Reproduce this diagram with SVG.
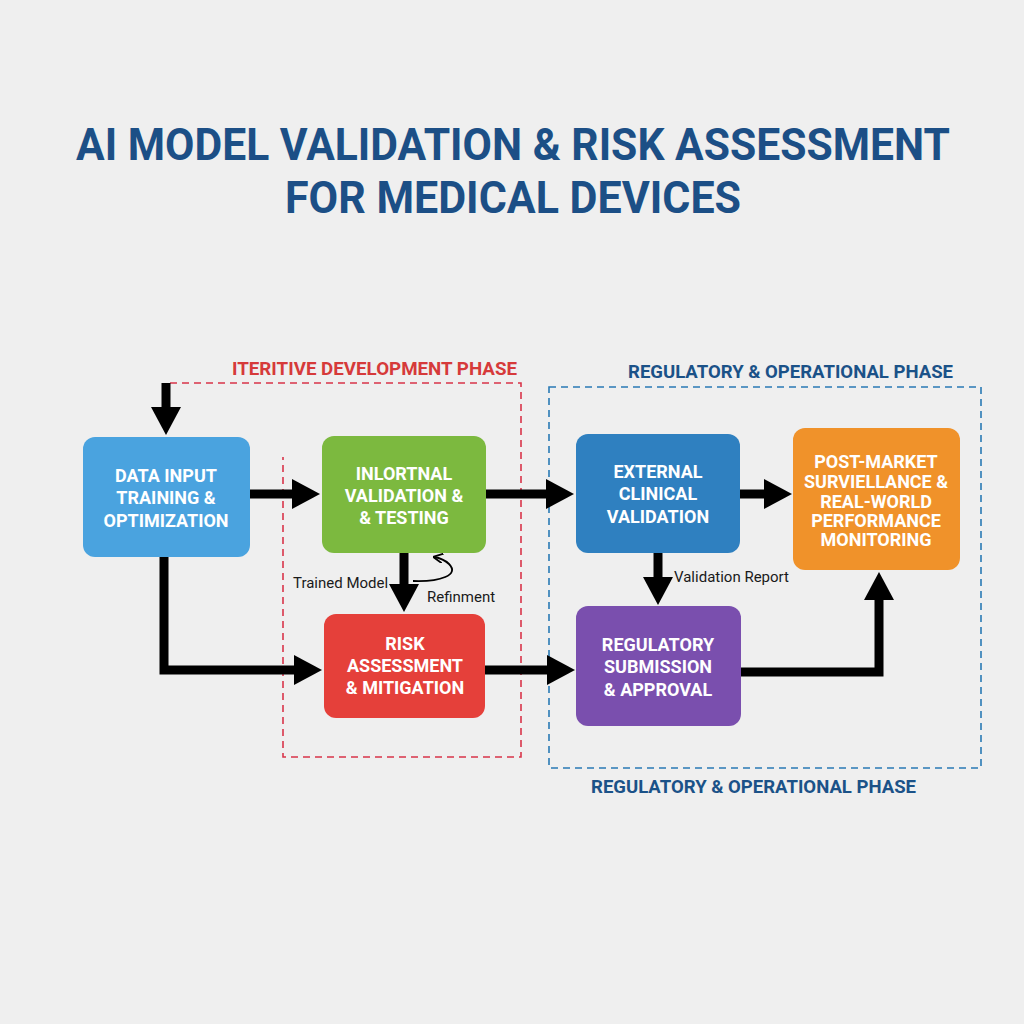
<svg xmlns="http://www.w3.org/2000/svg" width="1024" height="1024" viewBox="0 0 1024 1024">
<style>
.title{font-family:Roboto,"Liberation Sans",sans-serif;font-weight:700;fill:#1c4f86;font-size:44px}
.nt{font-family:Roboto,"Liberation Sans",sans-serif;font-weight:700;fill:#ffffff;font-size:18px;text-anchor:middle}
.ph{font-family:Roboto,"Liberation Sans",sans-serif;font-weight:700;font-size:18px}
.lbl{font-family:Roboto,"Liberation Sans",sans-serif;font-size:15px;fill:#1a1a1a}
.conn{fill:none;stroke:#000;stroke-width:9;marker-end:url(#ah)}
</style>
<defs>
<marker id="ah" markerUnits="userSpaceOnUse" viewBox="0 0 28 30" markerWidth="28" markerHeight="30" refX="2" refY="15" orient="auto">
<path d="M0,0 L28,15 L0,30 z" fill="#000"/>
</marker>
<marker id="sm" markerUnits="userSpaceOnUse" viewBox="0 0 10 10" markerWidth="10" markerHeight="10" refX="9" refY="5" orient="auto">
<path d="M0,0 L10,5 L0,10" fill="none" stroke="#000" stroke-width="1.8"/>
</marker>
</defs>
<rect width="1024" height="1024" fill="#efefef"/>
<g id="title">
<text class="title" x="76" y="160" textLength="874" lengthAdjust="spacingAndGlyphs">AI MODEL VALIDATION &amp; RISK ASSESSMENT</text>
<text class="title" x="285" y="213" textLength="456" lengthAdjust="spacingAndGlyphs">FOR MEDICAL DEVICES</text>
</g>
<g id="phase-dev">
<path d="M170,383 H521 V757 H283 V457" fill="none" stroke="#d9354a" stroke-width="1.6" stroke-dasharray="7,5"/>
<text class="ph" x="232" y="375" fill="#d63a3a" textLength="285" lengthAdjust="spacingAndGlyphs">ITERITIVE DEVELOPMENT PHASE</text>
</g>
<g id="phase-reg">
<rect x="549" y="387" width="432" height="381" fill="none" stroke="#2a7ab5" stroke-width="1.6" stroke-dasharray="7,5"/>
<text class="ph" x="628" y="378" fill="#1b5288" textLength="325" lengthAdjust="spacingAndGlyphs">REGULATORY &amp; OPERATIONAL PHASE</text>
<text class="ph" x="591" y="793" fill="#1b5288" textLength="325" lengthAdjust="spacingAndGlyphs">REGULATORY &amp; OPERATIONAL PHASE</text>
</g>
<g id="connectors">
<path class="conn" d="M166,383 V409"/>
<path class="conn" d="M250,494 H294"/>
<path class="conn" d="M486,494 H548"/>
<path class="conn" d="M740,494 H766"/>
<path class="conn" d="M404,553 V586"/>
<path class="conn" d="M164,557 V670 H296"/>
<path class="conn" d="M485,670 H549"/>
<path class="conn" d="M658,553 V579"/>
<path class="conn" d="M741,672 H879 V598"/>
<path d="M413,581 C440,582 460,575 449,564 C445,560 440,558 434,557" fill="none" stroke="#000" stroke-width="1.8" marker-end="url(#sm)"/>
<text class="lbl" x="293" y="588">Trained Model</text>
<text class="lbl" x="427" y="602">Refinment</text>
<text class="lbl" x="674" y="582">Validation Report</text>
</g>
<g id="node-data">
<rect x="83" y="437" width="167" height="120" rx="12" fill="#4aa3df"/>
<text class="nt" x="166" y="482">DATA INPUT</text>
<text class="nt" x="166" y="504">TRAINING &amp;</text>
<text class="nt" x="166" y="527">OPTIMIZATION</text>
</g>
<g id="node-internal">
<rect x="322" y="436" width="164" height="117" rx="12" fill="#7cb93f"/>
<text class="nt" x="404" y="480">INLORTNAL</text>
<text class="nt" x="404" y="502">VALIDATION &amp;</text>
<text class="nt" x="404" y="524">&amp; TESTING</text>
</g>
<g id="node-external">
<rect x="576" y="434" width="164" height="119" rx="12" fill="#2f80c0"/>
<text class="nt" x="658" y="478">EXTERNAL</text>
<text class="nt" x="658" y="500">CLINICAL</text>
<text class="nt" x="658" y="523">VALIDATION</text>
</g>
<g id="node-postmarket">
<rect x="793" y="428" width="167" height="142" rx="12" fill="#f0922a"/>
<text class="nt" x="876" y="468">POST-MARKET</text>
<text class="nt" x="876" y="488">SURVIELLANCE &amp;</text>
<text class="nt" x="876" y="508">REAL-WORLD</text>
<text class="nt" x="876" y="527">PERFORMANCE</text>
<text class="nt" x="876" y="546">MONITORING</text>
</g>
<g id="node-risk">
<rect x="324" y="614" width="161" height="104" rx="12" fill="#e5403a"/>
<text class="nt" x="405" y="650">RISK</text>
<text class="nt" x="405" y="672">ASSESSMENT</text>
<text class="nt" x="405" y="694">&amp; MITIGATION</text>
</g>
<g id="node-regulatory">
<rect x="576" y="606" width="165" height="120" rx="12" fill="#7a4fae"/>
<text class="nt" x="658" y="651">REGULATORY</text>
<text class="nt" x="658" y="673">SUBMISSION</text>
<text class="nt" x="658" y="696">&amp; APPROVAL</text>
</g>
</svg>
